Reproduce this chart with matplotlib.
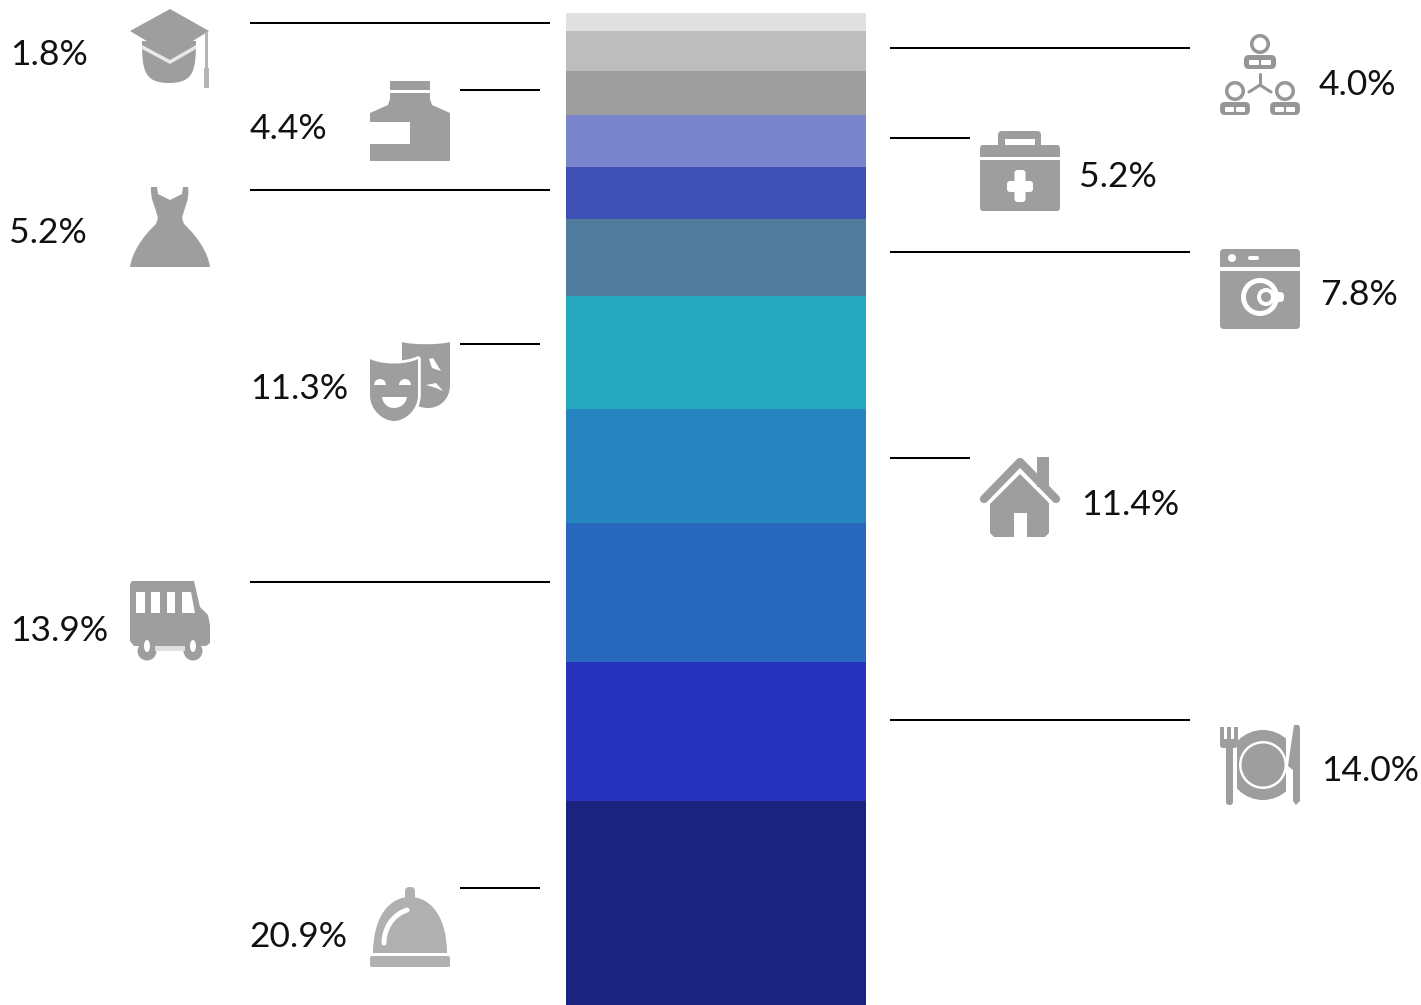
import matplotlib
matplotlib.use("Agg")
import matplotlib.pyplot as plt
from matplotlib.patches import Circle, Ellipse, FancyBboxPatch, PathPatch, Polygon, Rectangle, Wedge
from matplotlib.path import Path
from matplotlib.transforms import Affine2D

# budget shares, top of the column to the bottom
values = [1.8, 4.0, 4.4, 5.2, 5.2, 7.8, 11.3, 11.4, 13.9, 14.0, 20.9]
colors = ["#e0e0e0", "#bdbdbd", "#9e9e9e", "#7986cb", "#3f51b5", "#507b9c",
          "#26a8bf", "#2684bf", "#2869bd", "#2733bd", "#1a237e"]
icons = ["cap", "network", "ink", "kit", "dress", "washer",
         "masks", "house", "bus", "plate", "cloche"]

# layout in pixels, same order as values
line_y = [23, 48, 90, 138, 190, 252, 344, 458, 582, 720, 888]
line_x = [(250, 550), (890, 1190), (460, 540), (890, 970), (250, 550), (890, 1190),
          (460, 540), (890, 970), (250, 550), (890, 1190), (460, 540)]
icon_xy = [(130, 8), (1220, 35), (370, 81), (980, 131), (130, 187), (1220, 249),
           (370, 341), (980, 457), (130, 581), (1220, 725), (370, 887)]
text_xy = [(10, 65), (1319, 95), (250, 139), (1079, 187), (9, 243), (1320, 305),
           (250, 399), (1081, 515), (10, 641), (1321, 781), (249, 947)]

W, H = 1421, 1005
GREY = "#9e9e9e"
WHITE = "white"

fig = plt.figure(figsize=(W / 100, H / 100), dpi=100)

# the stacked column, it runs off the bottom of the picture
ax = fig.add_axes([566 / W, 0, 300 / W, 992 / H])
bottom = 0
for v, c in zip(values, colors):
    ax.bar(0, v, bottom=bottom, width=1, color=c, linewidth=0)
    bottom += v
ax.set_xlim(-0.5, 0.5)
ax.set_ylim(99.4, 0)
ax.axis("off")

# overlay in pixel coordinates for lines, icons and labels
px = fig.add_axes([0, 0, 1, 1])
px.set_xlim(0, W)
px.set_ylim(H, 0)
px.axis("off")
px.patch.set_alpha(0)


def poly(t, pts, c=GREY):
    px.add_patch(Polygon(pts, closed=True, fc=c, ec="none", transform=t))


def rect(t, x, y, w, h, c=GREY):
    px.add_patch(Rectangle((x, y), w, h, fc=c, ec="none", transform=t))


def rrect(t, x, y, w, h, r, c=GREY):
    px.add_patch(FancyBboxPatch((x + r, y + r), w - 2 * r, h - 2 * r,
                                boxstyle="round,pad=%s" % r, fc=c, ec="none", transform=t))


def circ(t, x, y, r, c=GREY):
    px.add_patch(Circle((x, y), r, fc=c, ec="none", transform=t))


def curve(t, start, segs, c=GREY, lw=0, ec="none", fill=True):
    # segs are lines (2 values) or cubic beziers (6 values)
    verts = [start]
    codes = [Path.MOVETO]
    for s in segs:
        if len(s) == 2:
            verts.append(s)
            codes.append(Path.LINETO)
        else:
            verts += [s[:2], s[2:4], s[4:6]]
            codes += [Path.CURVE4] * 3
    if fill:
        verts.append(start)
        codes.append(Path.CLOSEPOLY)
    px.add_patch(PathPatch(Path(verts, codes), fc=c if fill else "none", ec=ec, lw=lw,
                           transform=t, capstyle="round", joinstyle="round"))


def draw_cap(t):
    curve(t, (12, 33), [(12, 62, 14, 75, 39, 75), (64, 75, 66, 62, 66, 33)])
    poly(t, [(12, 37), (40, 52), (66, 37), (66, 41), (40, 56), (12, 41)], "#e8e8e8")
    poly(t, [(40, 1), (79, 23), (40, 47), (0, 23)])
    rect(t, 75, 24, 3, 40, "#b5b5b5")
    rect(t, 74, 60, 5, 20, "#b5b5b5")


def draw_ink(t):
    rect(t, 20, 0, 40, 9)
    rect(t, 20, 12, 40, 8)
    poly(t, [(20, 18), (60, 18), (62, 24), (80, 32), (80, 80), (0, 80), (0, 32), (18, 24)])
    rect(t, 0, 41, 40, 22, WHITE)


def draw_dress(t):
    curve(t, (21, 0), [(27, 0), (28, 7), (40, 13), (52, 7), (53, 0), (58, 0),
                       (60, 12, 54, 22, 52, 31), (54, 37), (68, 50, 78, 66, 80, 80),
                       (0, 80), (2, 66, 12, 50, 26, 37), (28, 31), (26, 22, 20, 12, 21, 0)])


def draw_masks(t):
    curve(t, (32, 1), [(42, 4, 70, 4, 80, 1), (80, 44), (80, 58, 70, 67, 58, 67),
                       (46, 67, 32, 58, 32, 44)])
    front = [(12, 24, 36, 24, 48, 18), (48, 54), (48, 70, 34, 80, 24, 80),
             (14, 80, 0, 70, 0, 54)]
    curve(t, (0, 18), front, WHITE, lw=4, ec=WHITE)
    curve(t, (0, 18), front)
    poly(t, [(59, 18), (63, 17), (71, 30), (62, 27)], WHITE)
    poly(t, [(56, 44), (66, 42), (73, 50), (66, 47)], WHITE)
    px.add_patch(Wedge((10, 44), 6, 180, 360, fc=WHITE, ec="none", transform=t))
    px.add_patch(Wedge((35, 44), 6, 180, 360, fc=WHITE, ec="none", transform=t))
    curve(t, (12, 56), [(37, 56), (36, 63, 30, 67, 24, 67), (18, 67, 13, 63, 12, 56)], WHITE)


def draw_bus(t):
    circ(t, 17, 70, 9.5)
    circ(t, 63, 70, 9.5)
    rect(t, 25, 64, 30, 6, "#e0e0e0")
    curve(t, (0, 3), [(2, 0), (64, 0), (70, 26), (78, 34), (80, 44), (80, 62), (76, 65),
                      (4, 65), (0, 60)])
    for wx in [(6, 15), (21, 30), (37, 45)]:
        rect(t, wx[0], 11, wx[1] - wx[0], 21, WHITE)
    poly(t, [(52, 11), (61, 11), (65, 32), (52, 32)], WHITE)
    px.add_patch(Ellipse((17, 65), 6, 12, fc=WHITE, ec="none", transform=t))
    px.add_patch(Ellipse((63, 65), 6, 12, fc=WHITE, ec="none", transform=t))


def draw_cloche(t):
    c = "#b0b0b0"
    rrect(t, 35, 0, 10, 14, 4.5, c)
    curve(t, (3, 66), [(3, 32, 18, 10, 40, 10), (62, 10, 77, 32, 77, 66)], c)
    curve(t, (14, 56), [(14, 42, 22, 28, 37, 23)], lw=3.6, ec=WHITE, fill=False)
    rrect(t, 0, 69, 80, 11, 2, c)


def draw_network(t):
    c = "#969696"
    for hx, hy, bx in [(40, 9, 24), (15, 56, 0), (65, 56, 50)]:
        circ(t, hx, hy, 10, c)
        circ(t, hx, hy, 6.5, WHITE)
        bw = 32 if bx == 24 else 30
        bh = 14 if bx == 24 else 13
        by = 20 if bx == 24 else 67
        rrect(t, bx, by, bw, bh, 5, c)
        rrect(t, bx + 5, by + 5, bw / 2 - 6, 5, 1, WHITE)
        rrect(t, bx + bw / 2 + 1, by + 5, bw / 2 - 6, 5, 1, WHITE)
    curve(t, (40, 39), [(40, 50)], lw=2.2, ec=c, fill=False)
    curve(t, (29, 57), [(40, 50), (51, 57)], lw=2.2, ec=c, fill=False)


def draw_kit(t):
    rrect(t, 18, 0, 43, 20, 4)
    rect(t, 25, 8, 30, 6, WHITE)
    rrect(t, 0, 14, 80, 66, 3)
    rect(t, 0, 26, 80, 3, WHITE)
    rrect(t, 34.5, 39, 11, 32, 3, WHITE)
    rrect(t, 27, 50, 26, 11, 3, WHITE)


def draw_washer(t):
    rrect(t, 0, 0, 80, 80, 4)
    rect(t, 0, 18, 80, 4, WHITE)
    circ(t, 12, 9, 4, WHITE)
    rrect(t, 28, 7, 11, 4, 2, WHITE)
    circ(t, 40, 48, 19, WHITE)
    circ(t, 40, 48, 14)
    circ(t, 46, 48, 9, WHITE)
    rrect(t, 44, 43, 20, 10, 4, WHITE)
    circ(t, 46, 48, 5)


def draw_house(t):
    rect(t, 57, 0, 12, 30)
    curve(t, (4, 42), [(40, 5), (76, 42)], lw=6, ec=GREY, fill=False)
    poly(t, [(40, 17), (69, 46), (69, 76), (65, 80), (14, 80), (10, 76), (10, 47)])
    rect(t, 34, 56, 13, 24, WHITE)


def draw_plate(t):
    circ(t, 43, 40, 35)
    rect(t, 0, 0, 17, 80, WHITE)
    rect(t, 66, 0, 14, 80, WHITE)
    circ(t, 43, 40, 24, WHITE)
    circ(t, 43, 40, 21.5)
    for fx in (0, 7, 14):
        rect(t, fx, 2, 3.5, 16)
    rrect(t, 0, 14, 17.5, 9, 3)
    rrect(t, 6, 18, 7, 62, 3)
    curve(t, (74, 0), [(79, 0), (80, 3), (80, 76), (76, 80), (73, 76), (73, 45), (68, 41),
                       (71, 20)])


draw = {"cap": draw_cap, "ink": draw_ink, "dress": draw_dress, "masks": draw_masks,
        "bus": draw_bus, "cloche": draw_cloche, "network": draw_network, "kit": draw_kit,
        "washer": draw_washer, "house": draw_house, "plate": draw_plate}

for i in range(len(values)):
    px.plot(line_x[i], [line_y[i], line_y[i]], color="black", lw=1.45, solid_capstyle="butt")
    t = Affine2D().translate(*icon_xy[i]) + px.transData
    draw[icons[i]](t)
    px.text(text_xy[i][0], text_xy[i][1], "%.1f%%" % values[i], family="Lato",
            fontsize=25.5, color="#111111", ha="left", va="baseline")

px.set_xlim(0, W)
px.set_ylim(H, 0)

fig.savefig("out.png", dpi=100, facecolor="white")
